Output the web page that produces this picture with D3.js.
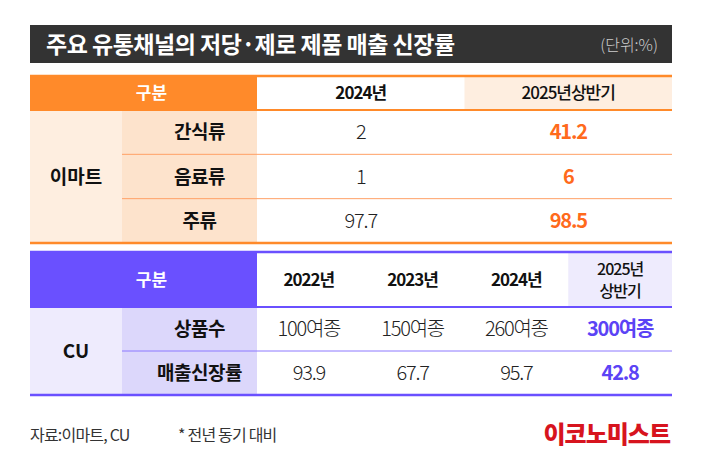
<!DOCTYPE html>
<html><head><meta charset="utf-8">
<script src="https://cdn.jsdelivr.net/npm/d3@7"></script>
<style>body{margin:0;background:#fff}text{font-family:"Noto Sans CJK KR","Noto Sans",sans-serif}</style>
</head><body><svg id="c" width="701" height="458"></svg>
<script>
const title="주요 유통채널의 저당·제로 제품 매출 신장률";
const unit="(단위:%)";
const emartCols=["2024년","2025년상반기"];
const emartRows=["간식류","음료류","주류"];
const emart2024=["2","1","97.7"];
const emart2025=["41.2","6","98.5"];
const cuCols=["2022년","2023년","2024년","2025년\n상반기"];
const cuRows=["상품수","매출신장률"];
const cuValues=[["100여종","150여종","260여종","300여종"],["93.9","67.7","95.7","42.8"]];
const source="자료:이마트, CU", note="* 전년 동기 대비", logo="이코노미스트";

const svg=d3.select("#c");
const L=30,R=672,C1=122,C2=257;
svg.append("rect").attr("x",L).attr("y",25).attr("width",R-L).attr("height",38).attr("fill","#333333");
svg.append("text").attr("x",L+16).attr("y",53).attr("fill","#fff").attr("font-size",23).attr("font-weight",700).attr("letter-spacing",-0.5).text(title);
svg.append("text").attr("x",R-14).attr("y",51).attr("text-anchor","end").attr("fill","#ccc").attr("font-size",16).attr("font-weight",300).text(unit);

function table(o){
  const x=d3.scaleBand().domain(o.cols.map((d,i)=>i)).range([C2,R]);
  const y=d3.scaleBand().domain(o.rows.map((d,i)=>i)).range([o.top+o.hh,o.bottom]);
  const g=svg.append("g");
  g.append("rect").attr("x",L).attr("y",o.top).attr("width",C2-L).attr("height",o.hh).attr("fill",o.main);
  g.append("rect").attr("x",x(o.cols.length-1)).attr("y",o.top).attr("width",x.bandwidth()).attr("height",o.hh).attr("fill",o.light);
  g.append("rect").attr("x",L).attr("y",o.top+o.hh).attr("width",C1-L).attr("height",o.bottom-o.top-o.hh).attr("fill",o.light);
  g.append("rect").attr("x",C1).attr("y",o.top+o.hh).attr("width",C2-C1).attr("height",o.bottom-o.top-o.hh).attr("fill",o.mid);
  g.append("line").attr("x1",L).attr("x2",R).attr("y1",o.top).attr("y2",o.top).attr("stroke",o.main).attr("stroke-width",2.5);
  g.append("line").attr("x1",L).attr("x2",R).attr("y1",o.top+o.hh).attr("y2",o.top+o.hh).attr("stroke",o.main).attr("stroke-width",2);
  g.append("line").attr("x1",L).attr("x2",R).attr("y1",o.bottom).attr("y2",o.bottom).attr("stroke",o.main).attr("stroke-width",2.5);
  o.rows.slice(1).forEach((d,i)=>g.append("line").attr("x1",C1).attr("x2",R).attr("y1",y(i+1)).attr("y2",y(i+1)).attr("stroke",o.line).attr("stroke-width",1));
  g.append("text").attr("x",(L+C2)/2+8).attr("y",o.top+o.hh/2+6).attr("text-anchor","middle").attr("fill","#fff").attr("font-size",17).attr("font-weight",700).text("구분");
  o.cols.forEach((c,i)=>{
    const lines=c.split("\n");
    const t=g.append("text").attr("x",x(i)+x.bandwidth()/2).attr("text-anchor","middle").attr("font-size",lines.length>1?16:17).attr("font-weight",i==o.cols.length-1?500:700).attr("fill","#111").attr("letter-spacing",-1);
    lines.forEach((l,k)=>t.append("tspan").attr("x",x(i)+x.bandwidth()/2).attr("y",o.top+o.hh/2+6+(k-(lines.length-1)/2)*22).text(l));
  });
  g.append("text").attr("x",(L+C1)/2).attr("y",(o.top+o.hh+o.bottom)/2+7).attr("text-anchor","middle").attr("font-size",19).attr("font-weight",700).attr("fill","#111").text(o.group);
  o.rows.forEach((r,j)=>{
    const cy=y(j)+y.bandwidth()/2+7;
    g.append("text").attr("x",(C1+C2)/2+10).attr("y",cy).attr("text-anchor","middle").attr("font-size",19).attr("font-weight",700).attr("fill","#111").attr("letter-spacing",-0.5).text(r);
    o.cols.forEach((c,i)=>{
      const last=i==o.cols.length-1;
      g.append("text").attr("x",x(i)+x.bandwidth()/2).attr("y",cy).attr("text-anchor","middle").attr("font-size",20).attr("letter-spacing",-1.2)
        .attr("font-weight",last?700:300).attr("fill",last?o.accent:"#222").text(o.values[j][i]);
    });
  });
}
table({cols:emartCols,rows:emartRows,values:emartRows.map((d,j)=>[emart2024[j],emart2025[j]]),top:76,hh:34,bottom:243,
  main:"#FF8A2A",light:"#FEEEE0",mid:"#FDE3CC",line:"#FFA066",accent:"#FF6A1C",group:"이마트"});
table({cols:cuCols,rows:cuRows,values:cuValues,top:252,hh:55,bottom:395,
  main:"#6A50FF",light:"#EEEBFD",mid:"#DCD7FB",line:"#8C78FF",accent:"#5B43F5",group:"CU"});

svg.append("text").attr("x",L).attr("y",441).attr("font-size",16).attr("fill","#333").attr("letter-spacing",-0.8).text(source);
svg.append("text").attr("x",178).attr("y",441).attr("font-size",16).attr("fill","#333").attr("letter-spacing",-0.8).text(note);
svg.append("text").attr("x",R-2).attr("y",443).attr("text-anchor","end").attr("font-size",24).attr("font-weight",900).attr("fill","#D7141E").attr("letter-spacing",-1).text(logo);
</script></body></html>
